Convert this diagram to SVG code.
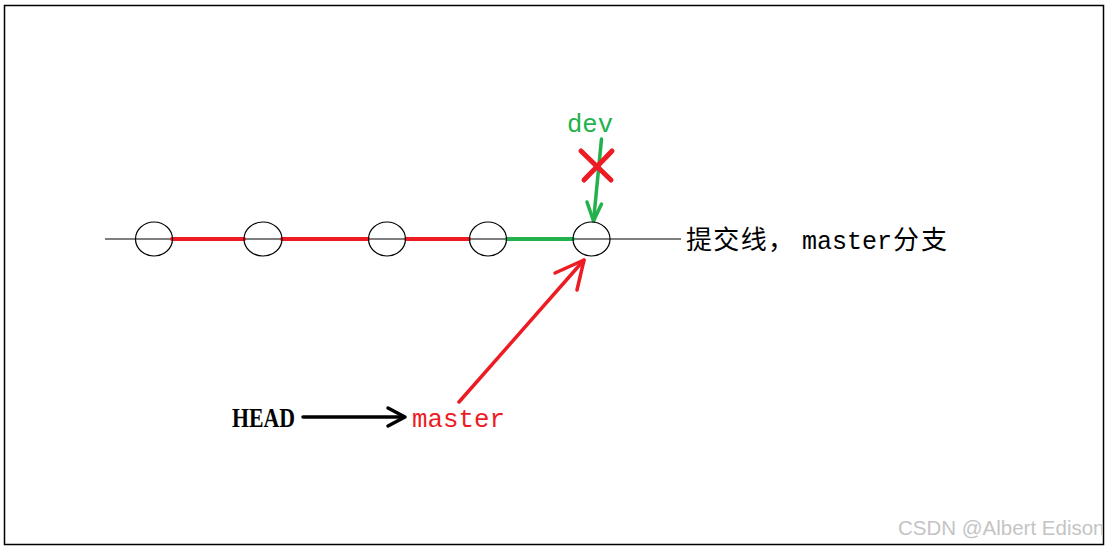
<svg xmlns="http://www.w3.org/2000/svg" width="1110" height="549" viewBox="0 0 1110 549">
<style>
.commit{fill:none;stroke:#000;stroke-width:1.2}
.mono{font-family:"Liberation Mono","DejaVu Sans Mono",monospace}
.red{stroke:#ed1c24;fill:none;stroke-linecap:round;stroke-linejoin:round}
.green{stroke:#22b14c;fill:none;stroke-linecap:round;stroke-linejoin:round}
</style>
<defs>
<clipPath id="frame"><rect x="5" y="6" width="1098" height="538"/></clipPath>
</defs>
<rect x="0" y="0" width="1110" height="549" fill="#fff"/>
<rect x="4.5" y="5.5" width="1099" height="539" fill="none" stroke="#000" stroke-width="1.5"/>
<g id="connectors">
<line x1="105" y1="239" x2="681" y2="239" stroke="#000" stroke-width="1.2"/>
<line x1="172" y1="239" x2="244" y2="239" class="red" stroke-width="4"/>
<line x1="282" y1="239" x2="368" y2="239" class="red" stroke-width="4"/>
<line x1="406" y1="239" x2="469" y2="239" class="red" stroke-width="4"/>
<line x1="507" y1="239" x2="573" y2="239" class="green" stroke-width="4"/>
<g id="dev-arrow" class="green" stroke-width="3.5">
<line x1="601.5" y1="139" x2="593.5" y2="221"/>
<polyline points="587,202 593.5,221 601.5,204"/>
</g>
<g id="master-arrow" class="red" stroke-width="3.5">
<line x1="459" y1="402" x2="584" y2="260"/>
<polyline points="555,273 584,260 577,290"/>
</g>
<g id="head-arrow" fill="none" stroke="#000" stroke-width="3.5" stroke-linecap="round" stroke-linejoin="round">
<line x1="303" y1="417" x2="404" y2="417"/>
<polyline points="388,408 405,417 388,426"/>
</g>
</g>
<g id="c1"><ellipse class="commit" cx="154" cy="239" rx="18.5" ry="17"/></g>
<g id="c2"><ellipse class="commit" cx="263" cy="239" rx="19" ry="17"/></g>
<g id="c3"><ellipse class="commit" cx="387" cy="239" rx="18.5" ry="17"/></g>
<g id="c4"><ellipse class="commit" cx="488" cy="239" rx="18.5" ry="17"/></g>
<g id="c5"><ellipse class="commit" cx="591.5" cy="239" rx="18.5" ry="17"/></g>
<g id="cross" class="red" stroke-width="5">
<line x1="581" y1="151" x2="611" y2="180"/>
<line x1="612" y1="151" x2="584" y2="180"/>
</g>
<g id="dev-label"><text x="567" y="132" class="mono" font-size="25" fill="#22b14c" textLength="46" lengthAdjust="spacingAndGlyphs">dev</text></g>
<g id="line-label">
<text y="249" font-size="26" fill="#000" font-family="'Noto Sans CJK SC','Noto Sans',sans-serif"><tspan x="686" textLength="108" lengthAdjust="spacing">提交线，</tspan><tspan x="802" class="mono" font-size="25" textLength="90" lengthAdjust="spacingAndGlyphs">master</tspan><tspan x="893" textLength="54" lengthAdjust="spacing">分支</tspan></text>
</g>
<g id="head-label"><text x="232" y="427" font-family="'Liberation Serif',serif" font-weight="bold" font-size="27" fill="#000" textLength="63" lengthAdjust="spacingAndGlyphs">HEAD</text></g>
<g id="master-label"><text x="412" y="427" class="mono" font-size="26" fill="#ed1c24" textLength="93" lengthAdjust="spacingAndGlyphs">master</text></g>
<g clip-path="url(#frame)"><text x="898" y="535" font-family="'Liberation Sans',Arial,sans-serif" font-size="20.5" fill="#c4c4c4">CSDN @Albert Edison</text></g>
</svg>
